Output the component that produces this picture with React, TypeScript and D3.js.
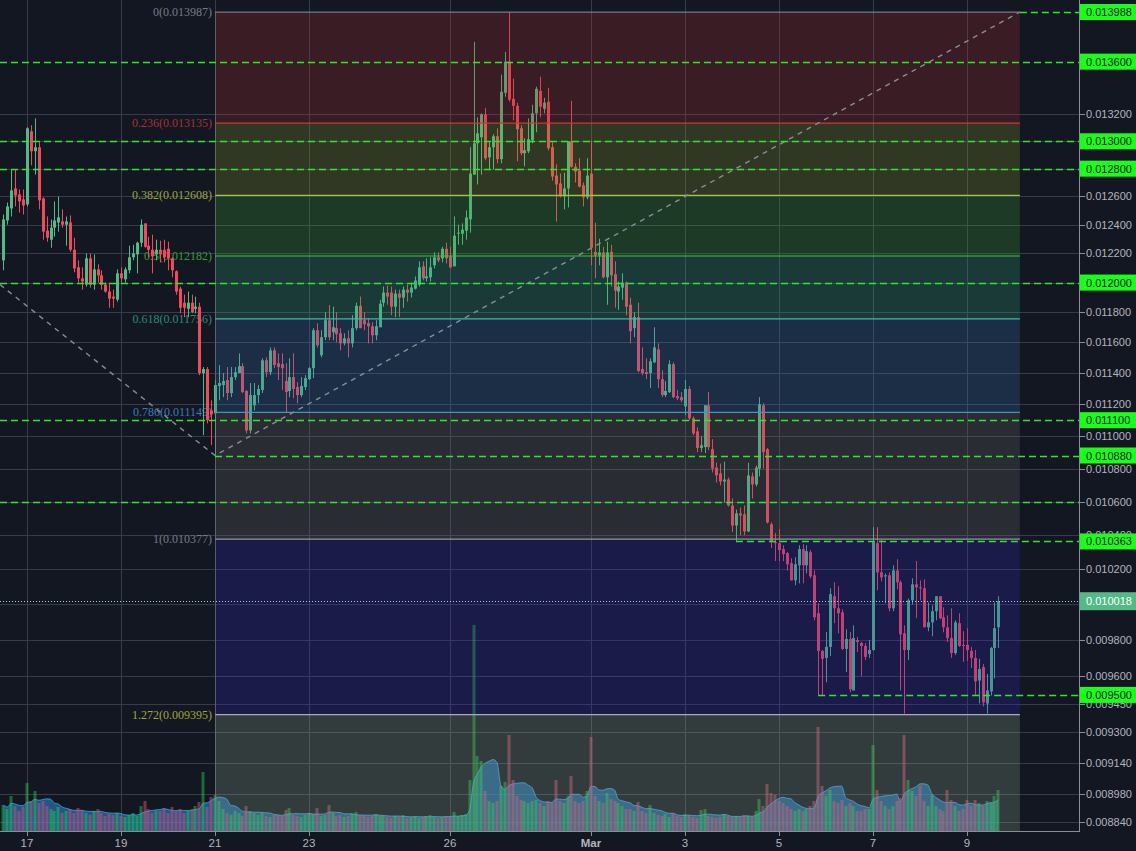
import React from "react";
import * as d3 from "d3";

// ---------- data (prices in millionths: value * PRICE_UNIT) ----------
const PRICE_UNIT = 1e-6;
const FIRST_BAR = Date.UTC(2019, 1, 16, 12);
const BAR_MS = 2 * 3600 * 1000;

const OPEN = [12152,12430,12515,12657,12614,12579,12543,13074,12927,12956,12586,12358,12295,12379,12416,12423,12400,12416,12225,12104,12029,11986,12166,11986,12090,12049,11986,11939,11905,11884,12063,12022,12084,12173,12193,12274,12409,12253,12225,12193,12225,12225,12232,12166,12077,11959,11864,11823,11864,11823,11837,11400,11426,11162,11143,11317,11323,11355,11272,11374,11400,11445,11285,11036,11194,11259,11291,11483,11406,11548,11464,11458,11349,11285,11374,11310,11259,11310,11361,11432,11680,11516,11634,11747,11667,11694,11660,11594,11627,11594,11694,11843,11747,11727,11707,11647,11700,11864,11932,11932,11837,11925,11898,11952,11932,11959,11986,12111,12029,12036,12118,12173,12166,12232,12179,12111,12337,12337,12358,12437,12757,12985,13030,13200,12883,12956,13037,12869,13362,13600,13317,13264,13096,12913,12927,13007,13208,13377,13242,13295,12956,12750,12693,12600,12657,13000,12814,12786,12679,12593,12764,12211,12186,12207,12036,12211,12056,11939,11966,12000,11850,11694,11767,11426,11406,11400,11470,11554,11361,11259,11278,11458,11252,11246,11187,11298,11112,11030,10926,10932,11194,10919,10806,10770,10721,10733,10576,10457,10529,10523,10422,10752,10703,10800,11194,10919,10464,10359,10353,10318,10295,10236,10137,10224,10318,10224,10300,10166,9950,9740,9701,9762,10046,9978,9955,9751,9806,9524,9800,9784,9767,9723,9745,10353,10183,10160,10166,9978,10194,10126,9838,9745,10023,10114,10097,10092,9871,9899,9961,10046,9927,9871,9811,9728,9894,9773,9773,9740,9701,9578,9651,9454,9519,9756,9871];
const HIGH = [12472,12557,12793,12793,12650,12650,13104,13119,13170,12993,12593,12458,12437,12565,12600,12508,12458,12465,12309,12152,12104,12200,12200,12193,12125,12084,12000,12000,11952,12090,12104,12104,12253,12260,12281,12437,12409,12316,12330,12295,12288,12295,12281,12173,12084,11973,11918,11939,11918,11905,11864,11439,11439,11226,11355,11452,11400,11439,11439,11439,11528,11464,11291,11336,11336,11323,11496,11502,11567,11567,11528,11528,11464,11496,11528,11342,11374,11387,11439,11694,11727,11680,11800,11848,11837,11800,11694,11660,11680,11780,11864,11905,11800,11760,11734,11747,11884,11973,11980,11973,11952,11952,11973,11986,12000,12042,12145,12145,12166,12173,12207,12207,12246,12274,12246,12458,12400,12409,12501,12956,13753,13178,13208,13249,12993,13052,13096,13501,13676,13987,13470,13287,13119,13022,13170,13272,13408,13485,13325,13400,12993,12832,12764,12771,13000,13302,12839,12876,12700,12876,13007,12414,12302,12246,12281,12260,12145,12007,12063,12007,11898,11800,11864,11567,11496,11496,11700,11594,11419,11349,11483,11470,11291,11278,11355,11317,11124,11055,11000,11194,11278,10981,10836,10830,10842,10745,10618,10552,10564,10576,10836,10776,10818,11246,11207,10926,10475,10412,10435,10341,10300,10265,10271,10341,10347,10341,10312,10194,10006,9745,9845,10092,10126,10103,9972,9860,9845,9882,9817,9789,9784,9800,10447,10447,10371,10177,10183,10224,10259,10137,9882,10034,10149,10248,10137,10143,10011,9994,10046,10046,9983,9938,9978,9910,9950,9849,9866,9762,9745,9696,9668,9613,9762,10011,10046];
const LOW = [12084,12400,12458,12529,12486,12472,12529,12825,12757,12508,12295,12281,12239,12316,12351,12379,12253,12211,12070,12000,11952,11973,11966,11952,12000,11952,11932,11830,11830,11871,12000,12000,12063,12152,12063,12246,12239,12173,12063,12152,12138,12138,12084,12036,11918,11793,11767,11767,11793,11793,11387,11006,11080,10944,10880,11226,11246,11226,11246,11355,11400,11272,11017,11017,11162,11207,11272,11374,11387,11432,11355,11291,11150,11246,11239,11207,11246,11291,11355,11368,11567,11502,11614,11614,11614,11600,11548,11581,11502,11567,11680,11694,11680,11594,11594,11614,11700,11837,11850,11780,11767,11767,11830,11871,11898,11952,11973,12015,12007,12007,12097,12138,12138,12131,12097,12111,12260,12260,12295,12344,12757,12686,12757,12861,12793,12793,12839,12839,13332,13295,13156,12854,12898,12818,12913,12985,13067,13178,13208,12934,12714,12422,12593,12508,12522,12807,12700,12664,12529,12579,12118,12029,12118,12029,11850,11973,11830,11816,11884,11780,11594,11634,11406,11387,11361,11304,11464,11304,11246,11246,11272,11239,11226,11213,11131,11099,11006,10901,10901,10895,10913,10776,10715,10697,10594,10570,10418,10365,10400,10400,10418,10618,10691,10752,10800,10469,10324,10248,10248,10248,10194,10137,10109,10120,10120,10177,10149,9910,9497,9497,9568,9712,9894,9838,9745,9624,9514,9524,9734,9600,9690,9701,9740,10080,10131,10006,9961,9961,10086,9524,9400,9690,10000,9922,10023,9871,9849,9821,9910,9916,9843,9789,9701,9718,9762,9679,9684,9646,9497,9454,9438,9400,9497,9589,9756];
const CLOSE = [12437,12529,12643,12607,12565,12536,13096,12927,12956,12572,12351,12309,12379,12430,12451,12400,12423,12225,12097,12029,12007,12166,11986,12090,12049,11986,11939,11891,11891,12063,12029,12090,12173,12200,12274,12400,12246,12225,12179,12225,12193,12173,12166,12084,11939,11830,11830,11864,11800,11837,11400,11426,11099,11137,11323,11336,11349,11272,11374,11406,11445,11278,11036,11259,11259,11298,11483,11406,11548,11452,11439,11432,11278,11374,11298,11259,11317,11368,11432,11680,11581,11634,11747,11634,11700,11654,11594,11627,11594,11694,11843,11694,11720,11707,11647,11707,11857,11932,11905,11837,11925,11898,11952,11932,11966,12014,12104,12029,12042,12104,12173,12152,12232,12166,12104,12323,12344,12365,12451,12764,12985,13059,13200,12876,12956,13037,12869,13370,13600,13310,13264,13089,12913,12934,13015,13208,13392,13257,13287,12949,12743,12686,12600,12657,13000,12814,12779,12671,12593,12750,12239,12186,12207,12036,12207,12049,11946,11973,12000,11837,11674,11767,11413,11400,11394,11477,11567,11361,11259,11285,11458,11246,11239,11226,11298,11112,11017,10926,10944,11194,10932,10800,10758,10721,10733,10576,10457,10529,10517,10422,10758,10703,10806,11200,10901,10475,10359,10353,10312,10289,10230,10137,10230,10318,10224,10306,10160,9927,9740,9696,9762,10058,9978,9950,9751,9806,9530,9811,9789,9767,9707,9745,10359,10183,10154,10166,9978,10194,10126,9832,9745,10023,10114,10097,10092,9871,9899,9961,10046,9922,9871,9811,9728,9899,9767,9767,9745,9701,9573,9640,9460,9524,9756,9866,10018];
const VOLUME = [26,22,35,25,20,24,48,30,40,28,30,25,22,20,24,18,20,22,18,23,20,18,16,20,22,18,15,17,16,18,15,14,16,18,15,25,30,22,18,20,20,22,18,24,20,22,18,20,22,25,29,59,24,34,36,30,22,18,16,20,18,15,25,20,18,16,18,15,14,16,16,15,21,23,16,15,14,16,18,17,23,15,16,26,18,15,16,14,15,17,19,16,15,14,15,17,15,16,14,13,15,14,16,13,14,15,13,14,15,16,14,13,14,15,14,19,15,16,17,51,206,75,70,40,30,28,30,45,49,96,51,35,31,30,28,30,31,28,25,30,28,51,30,28,35,55,30,28,30,40,94,35,30,28,38,32,30,28,25,22,22,20,29,20,18,26,18,16,15,17,14,18,15,14,17,16,14,13,21,22,15,14,13,14,17,15,14,15,14,16,15,14,20,32,25,47,38,36,30,28,25,22,20,22,20,22,25,30,104,45,35,41,30,28,31,25,28,25,20,20,22,22,86,41,30,25,22,25,30,33,96,51,40,35,45,30,25,36,25,22,20,41,31,25,20,22,31,25,31,28,25,30,28,35,41];

const LAST_PRICE = 0.010018;

const PRICE_TICKS = [0.0132,0.013,0.0128,0.0126,0.0124,0.0122,0.012,0.0118,0.0116,0.0114,0.0112,0.011,0.0108,0.0106,0.0104,0.0102,0.01,0.0098,0.0096,0.00945,0.0093,0.00914,0.00898,0.00884];
const DATE_TICKS = [Date.UTC(2019,1,17),Date.UTC(2019,1,19),Date.UTC(2019,1,21),Date.UTC(2019,1,23),Date.UTC(2019,1,26),Date.UTC(2019,2,1),Date.UTC(2019,2,3),Date.UTC(2019,2,5),Date.UTC(2019,2,7),Date.UTC(2019,2,9)];

const FIB_RATIOS = ["0","0.236","0.382","0.5","0.618","0.786","1","1.272"];
const FIB_PRICES = [0.013987,0.013135,0.012608,0.012182,0.011756,0.011149,0.010377,0.009395];
const FIB_LINE_COLORS = ["#787b86","#c43c35","#a3c23e","#3cc83c","#45b8a2","#4a90c8","#9598a1","#a8aeb0"];
const FIB_TEXT_COLORS = ["#787b86","#a83232","#9aa83a","#2ea02e","#2a8c78","#3b7bb5","#787b86","#a0a63a"];
const FIB_ZONE_COLORS = ["rgb(175,43,44)","rgb(135,155,42)","rgb(55,163,50)","rgb(47,163,122)","rgb(51,115,178)","rgb(111,107,106)","rgb(51,39,194)","rgb(143,171,138)"];
const FIB_START = Date.UTC(2019,1,21);
const FIB_END = Date.UTC(2019,2,10,3);

const TREND_TIMES = [Date.UTC(2019,1,16,10,13), Date.UTC(2019,1,21), Date.UTC(2019,2,10,3)];
const TREND_PRICES = [0.011986, 0.01088, 0.013988];

const LEVEL_PRICES = [0.013988,0.0136,0.013,0.0128,0.012,0.0111,0.01088,0.0106,0.010363,0.0095];
const LEVEL_STARTS = [Date.UTC(2019,2,10,3),null,null,null,null,null,Date.UTC(2019,1,21),null,Date.UTC(2019,2,4,2),Date.UTC(2019,2,5,20)];
const LEVEL_TAGGED = [true,true,true,true,true,true,true,false,true,true];

const UP = "#53b987";
const DOWN = "#eb4d5c";

export default function App() {
  const PANE_BOTTOM = 831;
  const AXIS_X = 1080;
  const x = d3.scaleUtc().domain([DATE_TICKS[0], DATE_TICKS[DATE_TICKS.length - 1]]).range([27, 967]);
  const y = d3.scaleLog().domain([0.00884, 0.013988]).range([822, 12]);
  const vMax = d3.max(VOLUME) as number;
  const yv = d3.scaleLinear().domain([0, vMax]).range([PANE_BOTTOM, PANE_BOTTOM - 206]);

  const bars = OPEN.map((o, i) => ({
    t: FIRST_BAR + i * BAR_MS,
    o: o * PRICE_UNIT,
    h: HIGH[i] * PRICE_UNIT,
    l: LOW[i] * PRICE_UNIT,
    c: CLOSE[i] * PRICE_UNIT,
    v: VOLUME[i],
  }));
  const ma = VOLUME.map((_, i) => d3.mean(VOLUME.slice(Math.max(0, i - 6), i + 1)) as number);
  const areaGen = d3
    .area<number>()
    .x((_, i) => x(bars[i].t))
    .y0(PANE_BOTTOM)
    .y1((d) => yv(d))
    .curve(d3.curveMonotoneX);
  const maLine = d3
    .line<number>()
    .x((_, i) => x(bars[i].t))
    .y((d) => yv(d))
    .curve(d3.curveMonotoneX);

  const fx0 = x(FIB_START);
  const fx1 = x(FIB_END);
  const fibY = FIB_PRICES.map((p) => y(p));
  const zoneBottoms = [...fibY.slice(1), PANE_BOTTOM];

  const trend = d3
    .line<number>()
    .x((_, i) => x(TREND_TIMES[i]))
    .y((d) => y(d));

  const sans = "'Liberation Sans', Arial, sans-serif";
  const serif = "'Liberation Serif', 'Times New Roman', serif";
  const fmt = (p: number) => p.toFixed(6);
  // tick labels that sit exactly under a tag box or under the last-price label are not drawn
  const coveredTick = (p: number) =>
    LEVEL_PRICES.some((lp, i) => LEVEL_TAGGED[i] && Math.abs(lp - p) < 1e-9) ||
    Math.abs(y(p) - y(LAST_PRICE)) < 5;

  return (
    <div style={{ position: "fixed", left: 0, top: 0 }}>
      <svg width={1136} height={851} style={{ display: "block", background: "#131722" }}>
        <defs>
          <clipPath id="pane">
            <rect x={0} y={0} width={AXIS_X} height={PANE_BOTTOM} />
          </clipPath>
        </defs>
        <rect x={0} y={0} width={1136} height={851} fill="#131722" />
        <g clipPath="url(#pane)">
          {/* grid */}
          {PRICE_TICKS.map((p) => (
            <line key={"hg" + p} x1={0} x2={AXIS_X} y1={Math.round(y(p)) + 0.5} y2={Math.round(y(p)) + 0.5} stroke="#363c4e" strokeWidth={1} />
          ))}
          {DATE_TICKS.map((t) => (
            <line key={"vg" + t} x1={Math.round(x(t)) + 0.5} x2={Math.round(x(t)) + 0.5} y1={0} y2={PANE_BOTTOM} stroke="#363c4e" strokeWidth={1} />
          ))}

          {/* fib labels */}
          {FIB_PRICES.map((p, i) => (
            <text key={"fl" + i} x={fx0 - 3} y={fibY[i] + 4} textAnchor="end" fontFamily={serif} fontSize={12} fill={FIB_TEXT_COLORS[i]}>
              {FIB_RATIOS[i]}({p.toFixed(6)})
            </text>
          ))}

          {/* volume */}
          <path d={areaGen(ma) || ""} fill="rgba(40,140,220,0.55)" />
          <path d={maLine(ma) || ""} fill="none" stroke="rgba(70,160,235,0.8)" strokeWidth={1} />
          {bars.map((b, i) => {
            const cx = Math.round(x(b.t));
            const up = b.c >= b.o;
            return (
              <rect key={"v" + i} x={cx - 1.5} width={3} y={yv(b.v)} height={PANE_BOTTOM - yv(b.v)} fill={up ? "rgba(40,210,70,0.45)" : "rgba(215,80,120,0.5)"} />
            );
          })}

          {/* candles */}
          {bars.map((b, i) => {
            const cx = Math.round(x(b.t));
            const up = b.c >= b.o;
            const col = up ? UP : DOWN;
            const top = y(Math.max(b.o, b.c));
            const bot = y(Math.min(b.o, b.c));
            return (
              <g key={"c" + i}>
                <line x1={cx + 0.5} x2={cx + 0.5} y1={y(b.h)} y2={y(b.l)} stroke={col} strokeWidth={1} />
                <rect x={cx - 1} width={3} y={top} height={Math.max(1, bot - top)} fill={col} />
              </g>
            );
          })}

          {/* fib zones */}
          {FIB_PRICES.map((p, i) => (
            <rect key={"fz" + i} x={fx0} width={fx1 - fx0} y={fibY[i]} height={zoneBottoms[i] - fibY[i]} fill={FIB_ZONE_COLORS[i]} fillOpacity={0.25} />
          ))}
          {FIB_PRICES.map((p, i) => (
            <line key={"fli" + i} x1={fx0} x2={fx1} y1={fibY[i]} y2={fibY[i]} stroke={FIB_LINE_COLORS[i]} strokeWidth={1.2} />
          ))}
          <line x1={fx0 + 0.5} x2={fx0 + 0.5} y1={fibY[0]} y2={PANE_BOTTOM} stroke="rgba(120,123,134,0.5)" strokeWidth={1} />

          {/* trend line */}
          <path d={trend(TREND_PRICES) || ""} fill="none" stroke="#8a8d96" strokeWidth={1.4} strokeDasharray="5 5" />

          {/* horizontal levels */}
          {LEVEL_PRICES.map((p, i) => {
            const s = LEVEL_STARTS[i];
            return (
              <line key={"lv" + i} x1={s === null ? 0 : x(s)} x2={AXIS_X} y1={Math.round(y(p)) + 0.5} y2={Math.round(y(p)) + 0.5} stroke="#2ee62e" strokeWidth={1.4} strokeDasharray="7 4" />
            );
          })}

          {/* last price line */}
          <line x1={0} x2={AXIS_X} y1={Math.round(y(LAST_PRICE)) + 0.5} y2={Math.round(y(LAST_PRICE)) + 0.5} stroke="#a9d9d2" strokeWidth={1} strokeDasharray="1 2" />
        </g>

        {/* axes */}
        <line x1={AXIS_X - 0.5} x2={AXIS_X - 0.5} y1={0} y2={PANE_BOTTOM + 1} stroke="#8a8d96" strokeWidth={1} />
        <line x1={0} x2={AXIS_X} y1={PANE_BOTTOM + 0.5} y2={PANE_BOTTOM + 0.5} stroke="#8a8d96" strokeWidth={1} />
        {PRICE_TICKS.map((p) => (
          <g key={"pt" + p}>
            <line x1={AXIS_X} x2={AXIS_X + 5} y1={Math.round(y(p)) + 0.5} y2={Math.round(y(p)) + 0.5} stroke="#8a8d96" />
            {coveredTick(p) ? null : (
              <text x={AXIS_X + 6} y={y(p) + 4} fontFamily={sans} fontSize={11} fill="#b2b5be">
                {fmt(p)}
              </text>
            )}
          </g>
        ))}
        {DATE_TICKS.map((t) => {
          const d = new Date(t);
          const isMonth = d.getUTCDate() === 1;
          return (
            <g key={"dt" + t}>
              <line x1={Math.round(x(t)) + 0.5} x2={Math.round(x(t)) + 0.5} y1={PANE_BOTTOM} y2={PANE_BOTTOM + 5} stroke="#8a8d96" />
              <text x={x(t)} y={847} textAnchor="middle" fontFamily={sans} fontSize={11.5} fontWeight={isMonth ? "bold" : "normal"} fill="#b2b5be">
                {isMonth ? d3.utcFormat("%b")(d) : d3.utcFormat("%-d")(d)}
              </text>
            </g>
          );
        })}

        {/* tagged level labels */}
        {LEVEL_PRICES.map((p, i) =>
          LEVEL_TAGGED[i] ? (
            <g key={"tag" + i}>
              <rect x={AXIS_X} y={y(p) - 8} width={56} height={16} fill="#1aff1a" />
              <text x={AXIS_X + 6} y={y(p) + 4} fontFamily={sans} fontSize={11} fill="#131722">
                {fmt(p)}
              </text>
            </g>
          ) : null
        )}
        <rect x={AXIS_X} y={y(LAST_PRICE) - 9} width={56} height={18} fill="#53b987" />
        <text x={AXIS_X + 6} y={y(LAST_PRICE) + 4} fontFamily={sans} fontSize={11} fill="#ffffff">
          {fmt(LAST_PRICE)}
        </text>
      </svg>
    </div>
  );
}
